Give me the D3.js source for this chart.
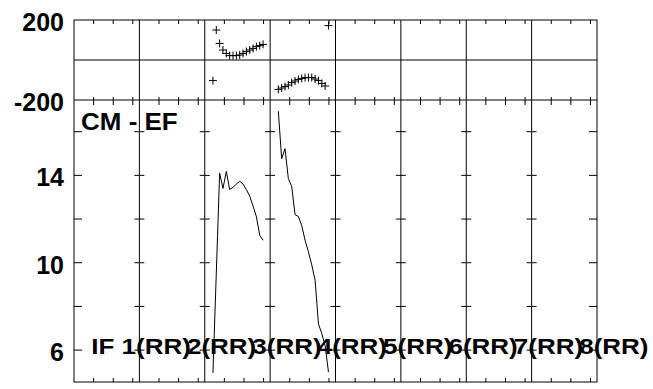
<!DOCTYPE html>
<html><head><meta charset="utf-8">
<script src="https://cdn.jsdelivr.net/npm/d3@7/dist/d3.min.js"></script>
<style>body{margin:0;background:#fff}svg{display:block}</style>
</head><body>
<svg id="chart" width="653" height="389"></svg>
<script>
// ---- data ----
const columnLabels = ["IF 1(RR)", "2(RR)", "3(RR)", "4(RR)", "5(RR)", "6(RR)", "7(RR)", "8(RR)"];
const pointIndex = [1, 2, 3, 4, 5, 6, 7, 8, 9, 10, 11, 12, 13, 14, 15, 16];
// column 3 (index 2)
const col3Line  = [4.95, 9.5, 14.1, 13.4, 14.18, 13.35, 13.45, 13.6, 13.73, 13.6, 13.35, 13.05, 12.6, 12.1, 11.25, 11.03];
const col3Cross = [-103, 150, 83, 50, 33, 22, 22, 22, 25, 33, 42, 50, 58, 67, 72, 78];
// column 4 (index 3)
const col4Line  = [16.94, 14.76, 15.22, 13.85, 13.5, 12.2, 12.12, 11.7, 11.03, 10.5, 9.9, 9.2, 7.2, 6.76, 6.2, 5.0];
const col4Cross = [-147, -140, -133, -125, -113, -105, -97, -92, -88, -88, -88, -95, -103, -117, -130, 172];
const topTicks = [-200, 200];
const bottomLabelTicks = [6, 10, 14];
const bottomMinorTicks = [6, 8, 10, 12, 14, 16];
const title = "CM - EF";
const seriesByColumn = [
  {col: 2, line: col3Line, cross: col3Cross},
  {col: 3, line: col4Line, cross: col4Cross}
];

// ---- layout ----
const svg = d3.select("#chart");
const L = 74, R = 597, T = 20, MID = 100, B = 382;
const nCol = columnLabels.length;
const xCol = d3.scaleLinear().domain([0, nCol]).range([L, R]);
const colW = xCol(1) - xCol(0);
const xIn = d3.scaleLinear().domain([-1.45, 18.1]).range([0, colW]);
const tickFrac = d3.scaleLinear().domain([0, 1]).range([0, colW]);
const tickFracs = [0.3, 0.6, 0.9];
const yTop = d3.scaleLinear().domain([-200, 200]).range([MID, T]);
const yBot = d3.scaleLinear().domain([4.54, 17.45]).range([B, MID]);
const font = "'Liberation Sans', Arial, Helvetica, sans-serif";

svg.append("rect").attr("width", 653).attr("height", 389).attr("fill", "#fff");

const g = svg.append("g").attr("stroke", "#000").attr("stroke-width", 1).attr("fill", "none");
// frame
g.append("rect").attr("x", L).attr("y", T).attr("width", R - L).attr("height", B - T);
g.append("line").attr("x1", L).attr("x2", R).attr("y1", MID).attr("y2", MID);
g.append("line").attr("x1", L).attr("x2", R).attr("y1", yTop(0)).attr("y2", yTop(0));
// dividers
d3.range(1, nCol).forEach(i => {
  g.append("line").attr("x1", xCol(i)).attr("x2", xCol(i)).attr("y1", T).attr("y2", B);
});
// x ticks
d3.range(nCol).forEach(i => {
  tickFracs.forEach(f => {
    const x = xCol(i) + tickFrac(f);
    g.append("line").attr("x1", x).attr("x2", x).attr("y1", T).attr("y2", T + 4);
    g.append("line").attr("x1", x).attr("x2", x).attr("y1", MID - 3).attr("y2", MID + 5);
    g.append("line").attr("x1", x).attr("x2", x).attr("y1", B).attr("y2", B - 4);
  });
});
// y ticks bottom panel
bottomMinorTicks.forEach(v => {
  const y = yBot(v);
  g.append("line").attr("x1", L).attr("x2", L + 8).attr("y1", y).attr("y2", y);
  g.append("line").attr("x1", R).attr("x2", R - 8).attr("y1", y).attr("y2", y);
  d3.range(1, nCol).forEach(i => {
    g.append("line").attr("x1", xCol(i) - 5).attr("x2", xCol(i) + 5).attr("y1", y).attr("y2", y);
  });
});

// tick labels
const fmt = d => String(d);
const axT = svg.append("g").attr("transform", `translate(${L},0)`)
  .call(d3.axisLeft(yTop).tickValues(topTicks).tickSize(0).tickPadding(10).tickFormat(fmt));
const axB = svg.append("g").attr("transform", `translate(${L},0)`)
  .call(d3.axisLeft(yBot).tickValues(bottomLabelTicks).tickSize(0).tickPadding(10).tickFormat(fmt));
[axT, axB].forEach(a => {
  a.select(".domain").remove();
  a.selectAll("text").attr("font-family", font).attr("font-weight", "bold")
    .attr("font-size", 25).attr("fill", "#000").attr("dy", "0.42em");
});

// data
const line = d3.line().x(d => d[0]).y(d => yBot(d[1]));
seriesByColumn.forEach(s => {
  const x0 = xCol(s.col);
  const pts = pointIndex.map((p, k) => [x0 + xIn(p), s.line[k]]);
  svg.append("path").attr("d", line(pts)).attr("fill", "none").attr("stroke", "#000").attr("stroke-width", 1);
  svg.append("g").selectAll("path").data(pointIndex).join("path")
    .attr("transform", (p, k) => `translate(${x0 + xIn(p)},${yTop(s.cross[k])})`)
    .attr("d", "M-4,0H4M0,-4V4").attr("stroke", "#000").attr("stroke-width", 1);
});

// annotations
svg.append("text").attr("transform", `translate(${L + 7},130) scale(1,0.93)`).text(title)
  .attr("font-family", font).attr("font-weight", "bold").attr("font-size", 26).attr("fill", "#000");
svg.append("g").selectAll("text").data(columnLabels).join("text")
  .attr("text-anchor", "end")
  .attr("transform", (d, i) => `translate(${xCol(i + 1) + 51.5},354) scale(1,0.85)`)
  .text(d => d)
  .attr("font-family", font).attr("font-weight", "bold").attr("font-size", 26).attr("fill", "#000");
</script>
</body></html>
